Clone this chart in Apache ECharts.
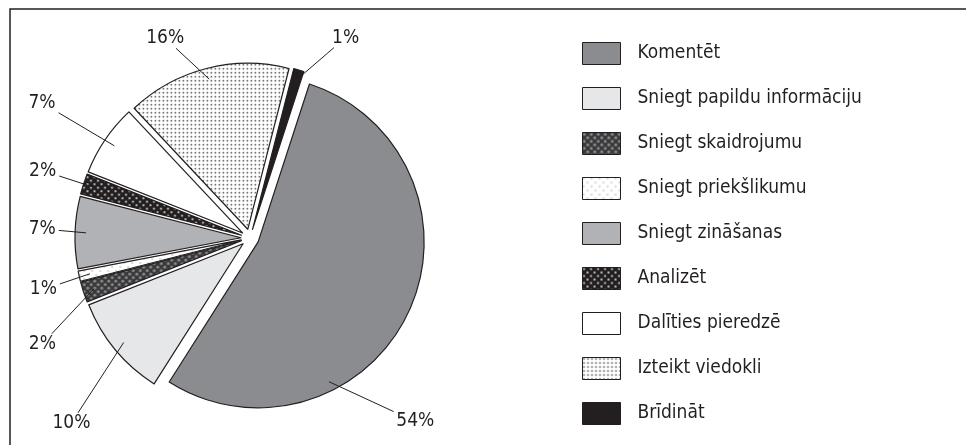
<!DOCTYPE html>
<html>
<head>
<meta charset="utf-8">
<script src="https://cdn.jsdelivr.net/npm/echarts@6/dist/echarts.min.js"></script>
<style>
  html, body { margin: 0; padding: 0; background: #fff; }
  #chart { width: 966px; height: 445px; }
</style>
</head>
<body>
<div id="chart"></div>
<script>
// data
const categories = [
  'Komentēt',
  'Sniegt papildu informāciju',
  'Sniegt skaidrojumu',
  'Sniegt priekšlikumu',
  'Sniegt zināšanas',
  'Analizēt',
  'Dalīties pieredzē',
  'Izteikt viedokli',
  'Brīdināt'
]
const shares = [54, 10, 2, 1, 7, 2, 7, 16, 1]

const ink = '#231f20'
const FONT = "'DejaVu Sans Condensed', sans-serif"
const FONT_SIZE = 19

// dotted fills, drawn on a small canvas tile
const dots = (size, bg, dotColor, radius, pts) => {
  const c = document.createElement('canvas')
  c.width = size
  c.height = size
  const g = c.getContext('2d')
  g.fillStyle = bg
  g.fillRect(0, 0, size, size)
  g.fillStyle = dotColor
  pts.forEach(p => {
    g.beginPath()
    g.arc(p[0], p[1], radius, 0, Math.PI * 2)
    g.fill()
  })
  return { image: c, repeat: 'repeat' }
}

const fills = [
  '#8b8c90',
  '#e6e7e8',
  dots(7, '#38383a', '#8e8e90', 1.5, [[1.75, 1.75], [5.25, 5.25]]),
  dots(8, '#ffffff', '#9a9a9a', 0.7, [[1, 1], [5, 5]]),
  '#b1b2b5',
  dots(7, ink, '#ffffff', 0.9, [[1.5, 1.5], [5, 5]]),
  '#ffffff',
  dots(4, '#ffffff', ink, 0.8, [[1.5, 1.5]]),
  ink
]

// pie geometry
const cx = 250, cy = 238, R = 166, OFF = 9, START = 72
// where each percentage label sits: [angle deg, distance from centre]
const labelSpots = [[-48, 247], [-134, 257], [-153, 233], [-166, 213], [177.5, 208], [162, 218], [147, 248], [113, 217], [64.5, 222]]
// the leader line of the big slice is pulled down from its middle
const anchorShift = { 0: -36 }

const total = shares.reduce((a, b) => a + b, 0)
const midAngle = i => {
  let before = 0
  for (let k = 0; k < i; k++) before += shares[k]
  return START - 360 * (before + shares[i] / 2) / total
}
const polar = (deg, dist) => {
  const a = deg * Math.PI / 180
  return [cx + dist * Math.cos(a), cy - dist * Math.sin(a)]
}

// leader lines: from inside the slice to the edge of its label
const measure = document.createElement('canvas').getContext('2d')
measure.font = FONT_SIZE + 'px ' + FONT
const leaderLines = shares.map((v, i) => {
  const inner = polar(midAngle(i) + (anchorShift[i] || 0), R - 2)
  const lab = polar(labelSpots[i][0], labelSpots[i][1])
  let ux = inner[0] - lab[0], uy = inner[1] - lab[1]
  const len = Math.hypot(ux, uy)
  ux /= len
  uy /= len
  const hw = measure.measureText(v + '%').width / 2 + 3
  const hh = 10
  const t = Math.min(
    Math.abs(ux) > 1e-6 ? hw / Math.abs(ux) : Infinity,
    Math.abs(uy) > 1e-6 ? hh / Math.abs(uy) : Infinity
  )
  return {
    type: 'polyline',
    z: 100,
    silent: true,
    shape: { points: [[lab[0] + ux * t, lab[1] + uy * t], inner] },
    style: { stroke: ink, lineWidth: 1, fill: null }
  }
})

const chart = echarts.init(document.getElementById('chart'))

chart.setOption({
  animation: false,
  graphic: [{
    type: 'rect',
    shape: { x: 10, y: 9, width: 975, height: 460 },
    style: { fill: 'none', stroke: ink, lineWidth: 1.5 },
    silent: true
  }].concat(leaderLines),
  legend: {
    orient: 'vertical',
    left: 577,
    top: 37,
    itemWidth: 38,
    itemHeight: 22,
    itemGap: 22,
    icon: 'rect',
    selectedMode: false,
    itemStyle: { borderColor: ink, borderWidth: 1 },
    textStyle: { fontFamily: FONT, fontSize: FONT_SIZE, color: ink, lineHeight: 22, padding: [0, 0, 0, 12] },
    data: categories
  },
  series: [
    {
      // the exploded slices
      type: 'pie',
      center: [cx, cy],
      radius: R,
      startAngle: START,
      clockwise: true,
      selectedMode: 'multiple',
      selectedOffset: OFF,
      emphasis: { disabled: true },
      itemStyle: { borderColor: ink, borderWidth: 1.2 },
      label: { show: false },
      labelLine: { show: false },
      data: categories.map((name, i) => ({
        name: name,
        value: shares[i],
        selected: true,
        itemStyle: { color: fills[i] }
      }))
    },
    {
      // same pie, invisible, only carries the percentage labels
      type: 'pie',
      center: [cx, cy],
      radius: R,
      startAngle: START,
      clockwise: true,
      silent: true,
      emphasis: { disabled: true },
      itemStyle: { color: 'rgba(0,0,0,0)', borderWidth: 0 },
      label: {
        show: true,
        position: 'outside',
        formatter: '{c}%',
        fontFamily: FONT,
        fontSize: FONT_SIZE,
        color: ink
      },
      labelLine: { show: false },
      labelLayout: p => {
        const pos = polar(labelSpots[p.dataIndex][0], labelSpots[p.dataIndex][1])
        return { x: pos[0], y: pos[1], align: 'center', verticalAlign: 'middle' }
      },
      data: categories.map((name, i) => ({ name: name, value: shares[i] }))
    }
  ]
})
</script>
</body>
</html>
